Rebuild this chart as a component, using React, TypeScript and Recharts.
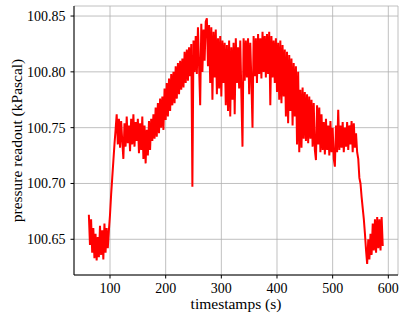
import React from "react";
import { LineChart, Line, XAxis, YAxis, CartesianGrid } from "recharts";

// Sampling: one reading every 2 s, listed by phase (start time of each phase given)
const SAMPLE_STEP = 2;

const phaseLowStart = 62;
const phaseLow = [
  100.672, 100.645, 100.668, 100.638, 100.660, 100.633, 100.655, 100.631, 100.652, 100.634,
  100.662, 100.636, 100.658, 100.632, 100.664, 100.638, 100.660, 100.642,
];

const phaseRiseStart = 98;
const phaseRise = [100.658, 100.672, 100.690, 100.705, 100.720, 100.735, 100.748, 100.762];

const phasePlateauStart = 114;
const phasePlateau = [
  100.735, 100.758, 100.732, 100.756, 100.738, 100.722, 100.754, 100.733, 100.760, 100.736,
  100.752, 100.729, 100.758, 100.735, 100.762, 100.733, 100.755, 100.738, 100.758, 100.727,
  100.754, 100.730, 100.760, 100.722, 100.752, 100.718, 100.748, 100.725, 100.756, 100.730,
  100.758,
];

const phaseClimbStart = 176;
const phaseClimb = [
  100.738, 100.762, 100.740, 100.768, 100.742, 100.772, 100.745, 100.776, 100.750, 100.778,
  100.748, 100.785, 100.757, 100.790, 100.760, 100.794, 100.765, 100.798, 100.770, 100.800,
  100.772, 100.805, 100.776, 100.808, 100.780, 100.810, 100.784, 100.812, 100.786, 100.818,
  100.790, 100.820, 100.792, 100.822, 100.796, 100.825, 100.697, 100.828, 100.800, 100.832,
  100.798, 100.840, 100.805, 100.770, 100.843, 100.800, 100.838, 100.810, 100.845, 100.848,
];

const phaseTopStart = 276;
const phaseTop = [
  100.805, 100.842, 100.790, 100.840, 100.775, 100.836, 100.795, 100.838, 100.780, 100.830,
  100.785, 100.832, 100.778, 100.828, 100.790, 100.826, 100.770, 100.824, 100.765, 100.828,
  100.760, 100.822, 100.775, 100.826, 100.762, 100.830, 100.790, 100.822, 100.785, 100.828,
  100.780, 100.733, 100.830, 100.792, 100.828, 100.795, 100.830, 100.780, 100.826, 100.792,
  100.750, 100.832, 100.796, 100.830, 100.790, 100.834, 100.798, 100.830, 100.794, 100.836,
  100.800, 100.832, 100.795, 100.834, 100.798, 100.836, 100.770, 100.832, 100.795, 100.828,
  100.790, 100.830, 100.782, 100.826, 100.775, 100.828, 100.772, 100.824, 100.778, 100.820,
  100.760, 100.818, 100.754, 100.815, 100.765, 100.812, 100.752, 100.808, 100.760, 100.805,
  100.735, 100.800, 100.728,
];

const phaseDeclineStart = 442;
const phaseDecline = [
  100.784, 100.732, 100.786, 100.740, 100.782, 100.738, 100.780, 100.736, 100.778, 100.740,
  100.775, 100.733, 100.772, 100.730, 100.721, 100.770, 100.735, 100.768, 100.728, 100.762,
  100.730, 100.755, 100.726, 100.758, 100.730, 100.752, 100.725, 100.756, 100.728, 100.750,
  100.722, 100.715, 100.752, 100.728, 100.766, 100.730, 100.752, 100.732, 100.755, 100.728,
  100.750, 100.733, 100.755, 100.730, 100.752, 100.735, 100.756, 100.728, 100.754, 100.732,
];

const phaseDropStart = 542;
const phaseDrop = [
  100.745, 100.728, 100.722, 100.705, 100.700, 100.688, 100.678, 100.668, 100.655, 100.640,
  100.628, 100.650, 100.632, 100.655, 100.636, 100.664, 100.640, 100.668, 100.638, 100.670,
  100.642, 100.668, 100.640, 100.670, 100.644,
];

const xTicks = [100, 200, 300, 400, 500, 600];
const yTicks = [100.65, 100.7, 100.75, 100.8, 100.85];
const xDomain: [number, number] = [35.3, 617.4];
const yDomain: [number, number] = [100.618, 100.859];

const phases: [number, number[]][] = [
  [phaseLowStart, phaseLow],
  [phaseRiseStart, phaseRise],
  [phasePlateauStart, phasePlateau],
  [phaseClimbStart, phaseClimb],
  [phaseTopStart, phaseTop],
  [phaseDeclineStart, phaseDecline],
  [phaseDropStart, phaseDrop],
];

const data = phases.flatMap(([start, vals]) =>
  vals.map((p, i) => ({ t: start + i * SAMPLE_STEP, p }))
);

const FONT = "'Liberation Serif', 'Times New Roman', serif";
const TICK_FS = 14;
const LABEL_FS = 15.5;

const XTick = (props: any) => {
  const { x, y, payload } = props;
  return (
    <text x={x} y={y} dy="0.71em" textAnchor="middle" fontFamily={FONT} fontSize={TICK_FS} fill="#000">
      {payload.value}
    </text>
  );
};

const YTick = (props: any) => {
  const { x, y, payload } = props;
  return (
    <text x={x} y={y} dy="0.35em" textAnchor="end" fontFamily={FONT} fontSize={TICK_FS} fill="#000">
      {Number(payload.value).toFixed(2)}
    </text>
  );
};

export default function App() {
  return (
    <div style={{ position: "absolute", left: 0, top: 0, width: 407, height: 321, background: "#fff", fontFamily: FONT }}>
      <LineChart
        width={407}
        height={321}
        data={data}
        margin={{ top: 6, right: 9, bottom: 0, left: 0 }}
        style={{ fontFamily: FONT }}
      >
        <CartesianGrid xAxisId="main" yAxisId="main" stroke="#b0b0b0" strokeWidth={0.8} />
        <XAxis
          xAxisId="main"
          dataKey="t"
          type="number"
          domain={xDomain}
          ticks={xTicks}
          allowDataOverflow
          height={46}
          tickSize={3.5}
          tickMargin={5}
          tick={<XTick />}
          axisLine={{ stroke: "#000", strokeWidth: 1 }}
          tickLine={{ stroke: "#000", strokeWidth: 1 }}
          label={{
            content: () => (
              <text x={236} y={309} textAnchor="middle" fontFamily={FONT} fontSize={LABEL_FS} fill="#000">
                timestamps (s)
              </text>
            ),
          }}
        />
        <XAxis
          xAxisId="top"
          orientation="top"
          dataKey="t"
          type="number"
          domain={xDomain}
          allowDataOverflow
          height={0}
          tick={false}
          tickLine={false}
          axisLine={{ stroke: "#000", strokeWidth: 1 }}
        />
        <YAxis
          yAxisId="main"
          type="number"
          domain={yDomain}
          ticks={yTicks}
          allowDataOverflow
          width={74}
          tickSize={3.5}
          tickMargin={5}
          tick={<YTick />}
          axisLine={{ stroke: "#000", strokeWidth: 1 }}
          tickLine={{ stroke: "#000", strokeWidth: 1 }}
          label={{
            content: () => (
              <text
                x={16}
                y={140.5}
                transform="rotate(-90 16 140.5)"
                textAnchor="middle"
                dominantBaseline="central"
                fontFamily={FONT}
                fontSize={LABEL_FS}
                fill="#000"
              >
                pressure readout (kPascal)
              </text>
            ),
          }}
        />
        <YAxis
          yAxisId="right"
          orientation="right"
          type="number"
          domain={yDomain}
          allowDataOverflow
          width={0}
          tick={false}
          tickLine={false}
          axisLine={{ stroke: "#000", strokeWidth: 1 }}
        />
        <Line
          xAxisId="main"
          yAxisId="main"
          type="linear"
          dataKey="p"
          stroke="#ff0000"
          strokeWidth={2}
          dot={false}
          isAnimationActive={false}
        />
      </LineChart>
    </div>
  );
}
